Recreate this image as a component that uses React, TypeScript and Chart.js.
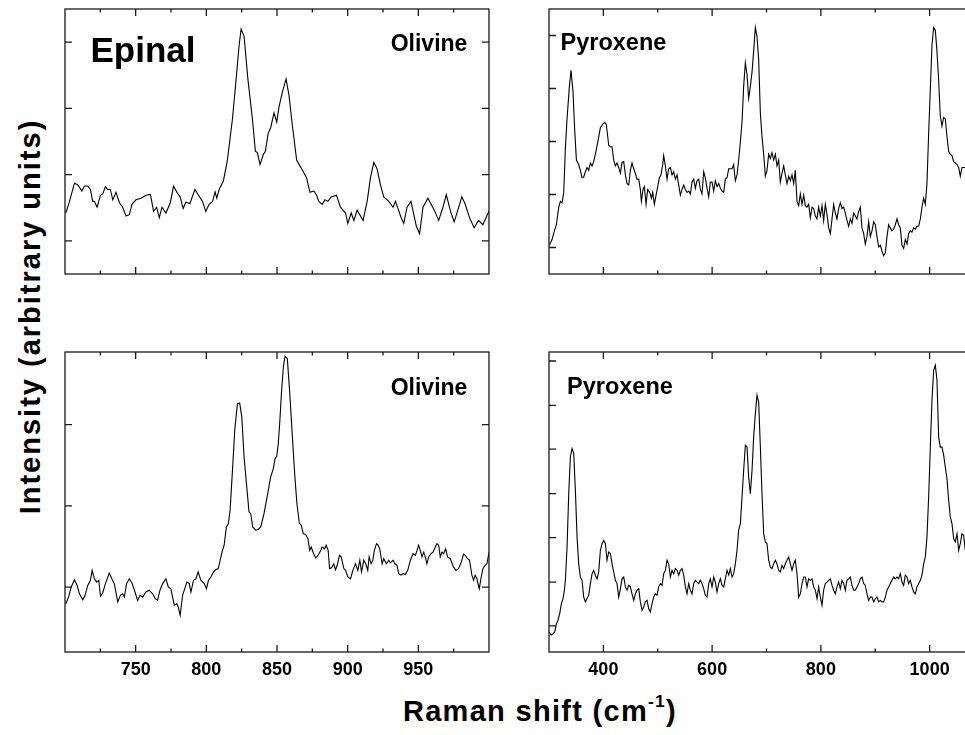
import React, { useEffect, useRef } from 'react';
import { Chart, registerables } from 'chart.js';

Chart.register(...registerables);

type Pt = [number, number];

// ---------- tick values ----------
const leftMajor = [750, 800, 850, 900, 950];
const leftMinor = [725, 775, 825, 875, 925, 975];
const rightMajor = [400, 600, 800, 1000];
const rightMinor = [500, 700, 900];
const olivineTopYTicks = [12.5, 37.5, 62.5, 87.5];
const pyroxeneTopYTicks = [10, 30, 50, 70, 90];
const olivineBottomYTicks = [21.6, 48.7, 75.8];
const pyroxeneBottomYTicks = [8.7, 23.3, 38.1, 52.8, 67.6, 82.2, 97.0];

// ---------- spectra (Raman shift cm-1, intensity a.u.) ----------
const olivineTop: Pt[] = [
  [700.6,23.0],[703.2,27.4],[706.7,34.3],[709.1,33.6],[711.9,31.3],[713.8,33.2],[716.1,33.2],[718.0,31.9],[719.6,27.4],[720.8,27.4],
  [722.7,25.2],[725.1,29.7],[726.7,30.2],[728.6,33.0],[730.2,31.9],[732.1,31.9],[733.8,28.0],[736.1,30.8],[738.5,26.9],[740.8,25.2],
  [743.2,21.9],[745.5,22.4],[747.4,26.3],[750.2,28.0],[753.8,28.6],[757.3,29.7],[760.4,30.0],[762.7,23.6],[764.8,25.2],[766.7,21.3],
  [768.6,25.2],[771.4,23.0],[774.5,26.9],[776.8,33.2],[779.2,30.8],[781.5,29.1],[783.6,24.7],[785.5,27.1],[788.4,26.6],[791.9,31.9],
  [794.5,29.7],[797.3,27.4],[799.6,23.6],[802.0,26.3],[804.4,27.4],[806.2,31.0],[807.4,28.6],[809.1,31.9],[812.1,35.2],[814.9,43.0],
  [818.5,58.6],[820.8,71.9],[823.2,86.3],[824.6,92.4],[826.7,89.7],[829.5,73.0],[832.6,58.6],[834.7,46.3],[836.1,45.8],[838.0,41.3],
  [840.4,45.2],[841.8,46.3],[843.7,53.0],[845.5,55.2],[847.9,60.8],[849.8,57.4],[851.4,63.0],[853.8,68.6],[856.4,73.6],[858.5,67.4],
  [860.8,56.3],[863.9,43.0],[866.2,40.8],[868.6,38.6],[870.9,36.3],[873.3,30.8],[876.1,31.3],[878.0,29.7],[879.6,27.4],[882.0,26.3],
  [883.9,28.0],[886.0,27.4],[888.4,29.1],[892.1,29.7],[894.9,25.2],[898.5,23.0],[900.1,19.1],[902.5,23.0],[904.4,20.2],[906.7,24.1],
  [910.9,20.2],[913.8,27.4],[916.1,36.3],[918.5,42.1],[920.8,39.7],[923.2,33.6],[925.5,29.1],[929.1,27.4],[932.1,25.2],[933.8,27.4],
  [937.8,21.3],[939.7,19.1],[942.0,25.2],[944.8,27.4],[948.6,18.0],[950.9,15.2],[953.3,25.2],[956.8,28.6],[961.3,24.1],[964.4,20.2],
  [967.4,25.2],[969.8,29.9],[973.1,23.0],[975.4,19.7],[980.8,29.1],[983.2,26.3],[986.2,21.3],[989.5,17.4],[992.6,20.2],[995.7,18.6],
  [1000.1,23.9],
];

const pyroxeneTop: Pt[] = [
  [300.7,10.8],[305.6,13.0],[309.9,16.3],[313.6,18.6],[317.9,25.2],[320.9,27.4],[324.0,26.9],[327.1,30.8],[330.1,47.4],[333.2,58.6],
  [337.5,70.8],[340.5,76.9],[344.2,68.6],[347.3,54.1],[350.4,43.0],[354.6,41.3],[357.7,39.1],[360.8,36.3],[363.8,36.6],[366.9,38.6],
  [370.0,40.2],[373.0,39.1],[376.1,41.9],[379.2,40.8],[382.2,42.4],[385.3,45.2],[389.6,49.7],[394.5,55.2],[398.8,56.6],[402.5,57.2],
  [405.5,56.3],[409.8,48.6],[412.9,48.0],[415.9,48.0],[419.0,43.0],[422.1,40.8],[425.1,41.9],[428.2,40.2],[431.3,38.0],[434.3,42.1],
  [437.4,42.4],[440.5,37.4],[443.5,34.1],[446.6,33.6],[449.6,39.1],[452.7,41.9],[455.8,39.7],[458.8,38.0],[461.9,35.8],[465.0,35.8],
  [468.0,31.9],[469.9,27.4],[472.9,31.9],[475.4,33.0],[478.5,26.3],[481.5,31.9],[485.2,30.8],[488.3,28.6],[490.7,30.8],[493.8,26.3],
  [496.8,29.7],[499.9,33.0],[503.0,36.3],[506.0,37.4],[509.1,41.3],[510.9,44.7],[514.0,40.8],[517.1,35.8],[520.1,39.7],[523.2,40.2],
  [526.3,37.4],[529.3,38.6],[532.4,35.8],[535.5,37.4],[538.5,33.6],[541.6,29.7],[544.6,31.9],[547.7,33.6],[550.8,31.9],[553.8,30.8],
  [556.9,31.3],[560.0,30.2],[563.0,34.7],[566.1,35.8],[569.2,32.4],[572.2,35.2],[575.3,35.8],[578.4,31.9],[581.4,30.2],[584.5,38.6],
  [587.5,36.3],[590.6,32.4],[593.7,29.1],[596.7,34.7],[599.8,34.7],[602.9,31.3],[605.9,35.2],[609.0,33.0],[612.1,34.1],[615.1,32.4],
  [618.2,31.3],[621.3,30.8],[624.3,35.8],[627.4,36.3],[630.5,39.7],[633.5,39.7],[636.6,39.7],[639.6,41.3],[642.7,35.2],[645.8,37.4],
  [648.8,43.0],[651.9,49.7],[655.0,57.4],[658.0,70.8],[661.1,79.7],[664.2,75.2],[667.2,66.3],[670.3,70.8],[673.4,76.3],[676.4,84.1],
  [679.5,93.0],[682.5,89.7],[685.6,80.8],[688.7,60.8],[691.7,51.9],[694.8,45.2],[697.9,36.9],[700.9,39.1],[704.0,45.2],[707.1,43.6],
  [710.1,45.8],[713.2,43.0],[716.3,45.2],[719.3,40.8],[722.4,43.0],[725.4,34.7],[728.5,38.0],[731.6,40.8],[734.6,37.4],[737.7,34.1],
  [740.8,36.9],[743.8,35.2],[746.9,37.4],[750.0,34.1],[753.0,39.1],[756.1,27.4],[759.2,25.8],[762.2,30.2],[765.3,26.3],[768.4,29.7],
  [771.4,25.8],[774.5,25.2],[777.5,26.3],[780.6,21.3],[783.7,25.2],[786.7,24.7],[789.8,21.9],[792.9,20.8],[795.9,25.2],[799.0,21.9],
  [802.1,25.8],[805.1,20.2],[808.2,26.3],[811.3,22.4],[814.3,17.4],[817.4,15.2],[820.5,20.8],[823.5,26.3],[826.6,23.0],[829.6,20.8],
  [832.7,24.7],[835.8,26.9],[838.8,24.7],[841.9,25.2],[845.0,23.0],[848.0,20.2],[851.1,18.0],[854.2,20.8],[857.2,19.1],[860.3,23.0],
  [863.4,21.9],[866.4,20.8],[869.5,23.6],[872.5,25.2],[875.6,17.4],[878.7,15.2],[881.7,11.3],[884.8,14.1],[887.9,19.7],[890.9,14.1],
  [894.0,16.3],[897.1,19.7],[900.1,18.6],[903.2,14.1],[906.3,10.2],[909.3,10.8],[912.4,8.6],[915.4,6.9],[918.5,8.0],[921.6,14.1],
  [924.6,18.6],[927.7,17.4],[930.8,16.3],[933.8,16.9],[936.9,18.6],[940.0,20.8],[943.0,18.6],[946.1,17.4],[949.2,10.8],[952.2,9.7],
  [955.3,13.0],[958.4,11.3],[961.4,15.2],[964.5,16.3],[967.5,15.8],[970.6,17.4],[973.7,16.9],[976.7,18.0],[979.8,18.0],[982.9,20.8],
  [985.9,25.2],[989.0,28.6],[992.1,26.3],[995.1,34.1],[998.2,53.0],[1001.3,69.7],[1004.3,86.3],[1007.4,93.0],[1010.5,91.9],[1013.5,84.1],
  [1016.6,73.0],[1019.6,59.7],[1022.7,55.8],[1025.8,59.1],[1028.8,58.6],[1031.9,51.9],[1035.0,46.3],[1038.0,45.2],[1041.1,44.7],[1044.2,42.4],
  [1047.2,41.9],[1050.3,41.3],[1053.4,40.2],[1056.4,36.9],[1059.5,40.2],[1065.6,40.2],
];

const olivineBottom: Pt[] = [
  [700.6,16.1],[702.5,18.3],[704.4,21.7],[706.7,24.1],[708.6,22.2],[710.2,19.4],[712.6,17.4],[714.2,18.9],[716.1,22.2],[718.0,23.9],
  [719.2,27.2],[720.8,24.4],[722.5,23.3],[723.9,23.9],[725.1,18.6],[726.7,19.7],[728.6,22.8],[731.4,26.3],[733.1,24.4],[734.9,22.8],
  [737.3,16.7],[739.2,18.9],[740.8,19.4],[742.0,18.3],[743.6,22.8],[745.5,24.4],[747.4,23.0],[749.5,20.0],[751.4,17.2],[753.1,18.9],
  [754.9,18.3],[757.3,20.0],[759.6,20.6],[762.0,19.4],[763.9,17.8],[765.5,17.2],[767.2,20.6],[769.1,22.8],[771.4,24.4],[773.1,21.7],
  [774.9,21.1],[777.3,15.6],[779.2,16.1],[780.1,15.0],[781.5,12.2],[783.2,18.9],[784.4,20.6],[786.2,23.3],[787.9,22.8],[789.1,20.0],
  [790.9,23.9],[792.6,24.4],[794.2,26.7],[796.1,23.9],[798.5,22.8],[800.1,21.1],[801.5,23.9],[803.2,25.0],[805.1,26.7],[806.7,27.4],
  [808.4,27.8],[809.8,30.6],[811.4,33.9],[812.6,35.6],[814.2,41.7],[815.6,42.8],[816.8,47.2],[818.5,60.6],[820.1,73.9],[822.0,82.8],
  [823.6,83.0],[825.1,78.3],[826.7,65.0],[828.6,55.0],[830.2,46.7],[831.4,46.1],[832.8,41.7],[834.9,40.6],[836.6,40.8],[838.5,41.7],
  [840.8,46.1],[843.2,52.2],[845.5,58.3],[847.4,61.1],[848.6,64.4],[849.8,65.2],[850.9,69.4],[851.9,76.1],[853.1,86.1],[854.5,95.0],
  [855.7,98.6],[857.3,97.8],[858.9,87.2],[860.6,73.9],[862.5,59.4],[864.1,49.4],[865.8,43.0],[867.2,42.2],[868.6,39.4],[870.2,39.2],
  [871.9,37.8],[873.1,33.9],[874.2,35.0],[875.7,33.0],[877.3,31.4],[878.5,31.9],[880.4,33.3],[882.0,35.0],[883.7,34.4],[884.8,35.6],
  [886.2,33.9],[887.2,27.8],[888.6,28.1],[890.2,29.4],[891.4,27.4],[892.6,28.9],[894.2,32.2],[895.4,31.7],[897.3,27.8],[898.5,27.2],
  [900.1,25.0],[902.0,24.4],[903.7,27.2],[905.5,29.4],[907.2,27.2],[908.6,30.6],[909.8,26.7],[911.4,30.6],[912.8,29.4],[914.2,27.2],
  [915.2,31.7],[916.6,29.4],[917.8,30.6],[918.9,33.9],[920.4,36.1],[921.5,35.6],[922.7,34.4],[924.4,29.4],[925.5,31.1],[927.4,29.4],
  [929.1,30.6],[930.2,29.7],[932.1,30.6],[933.3,29.4],[934.9,28.9],[936.1,26.1],[937.8,25.6],[939.2,26.1],[940.8,25.9],[942.5,27.2],
  [944.4,30.6],[946.2,32.8],[947.9,32.2],[949.1,33.9],[950.2,35.6],[951.4,33.9],[952.6,31.7],[953.8,33.3],[954.9,31.7],[956.1,29.4],
  [957.3,31.7],[958.9,32.8],[960.4,33.3],[962.0,35.0],[963.2,36.1],[964.4,35.6],[965.5,31.7],[966.7,33.3],[967.9,32.8],[969.3,34.4],
  [970.7,31.7],[972.6,31.1],[974.9,28.3],[976.6,27.2],[978.5,27.8],[980.4,30.0],[982.0,32.6],[983.2,32.2],[984.8,31.1],[986.2,30.6],
  [987.9,25.6],[989.1,23.9],[990.2,25.6],[991.4,24.4],[993.1,21.1],[994.5,25.0],[995.7,27.8],[997.3,28.9],[998.5,29.4],[1000.1,33.3],
];

const pyroxeneBottom: Pt[] = [
  [300.7,6.7],[303.8,5.6],[307.5,6.1],[310.5,6.7],[313.6,9.4],[316.6,10.6],[319.7,12.8],[322.8,16.1],[325.8,17.8],[328.3,20.6],
  [330.1,23.9],[333.2,35.0],[336.3,52.8],[339.3,65.0],[342.4,67.8],[345.5,66.1],[348.5,53.9],[351.6,38.3],[354.6,29.4],[357.7,25.0],
  [360.8,23.9],[363.8,18.3],[366.9,16.7],[370.0,17.8],[373.0,18.9],[376.1,22.8],[379.2,26.1],[382.2,27.2],[385.3,25.6],[388.4,24.4],
  [391.4,26.7],[394.5,33.9],[397.5,36.1],[400.6,37.2],[403.7,36.1],[406.7,30.6],[409.8,33.3],[412.9,32.8],[415.9,29.4],[419.0,26.7],
  [422.1,23.9],[425.1,22.8],[428.2,18.3],[431.3,21.1],[434.3,24.4],[437.4,25.0],[440.5,21.7],[443.5,20.6],[446.6,22.2],[449.6,21.7],
  [452.7,19.4],[455.8,17.2],[458.8,19.4],[461.9,20.6],[465.0,21.1],[468.0,16.7],[471.1,13.9],[474.2,15.0],[477.2,16.7],[480.3,17.2],
  [483.4,14.4],[486.4,13.3],[489.5,16.1],[492.5,18.3],[495.6,19.4],[498.7,18.9],[501.7,21.7],[504.8,22.8],[507.9,22.2],[510.9,26.1],
  [514.0,27.2],[517.1,30.6],[520.1,29.4],[523.2,25.0],[526.3,27.2],[529.3,26.1],[532.4,27.8],[535.5,27.2],[538.5,25.6],[541.6,27.2],
  [544.6,27.8],[547.7,25.6],[550.8,21.7],[553.8,19.4],[556.9,22.8],[560.0,20.6],[563.0,19.4],[566.1,22.8],[569.2,23.9],[572.2,23.3],
  [575.3,22.8],[578.4,23.9],[581.4,22.8],[584.5,21.1],[587.5,18.9],[590.6,18.3],[593.7,22.8],[596.7,24.4],[599.8,21.7],[602.9,25.0],
  [605.9,23.3],[609.0,20.0],[612.1,22.8],[615.1,24.4],[618.2,22.2],[621.3,21.7],[624.3,24.4],[627.4,27.2],[630.5,25.6],[633.5,27.8],
  [636.6,25.0],[639.6,26.1],[642.7,29.4],[645.8,33.9],[648.8,40.6],[651.9,42.8],[655.0,51.7],[658.0,60.6],[661.1,68.9],[664.2,68.3],
  [667.2,58.3],[670.3,52.8],[673.4,60.6],[676.4,71.7],[679.5,79.4],[682.5,85.6],[685.6,83.3],[688.7,68.3],[691.7,52.8],[694.8,39.4],
  [697.9,36.7],[700.9,36.1],[704.0,30.6],[707.1,28.3],[710.1,27.8],[713.2,29.4],[716.3,30.6],[719.3,29.4],[722.4,27.2],[725.4,26.7],
  [728.5,28.9],[731.6,27.8],[734.6,29.4],[737.7,30.6],[740.8,31.7],[743.8,29.4],[746.9,27.2],[750.0,29.4],[753.0,30.6],[756.1,26.1],
  [759.2,18.3],[762.2,19.4],[765.3,22.8],[768.4,25.0],[771.4,25.0],[774.5,21.7],[777.5,24.4],[780.6,23.9],[783.7,24.4],[786.7,21.7],
  [789.8,20.6],[792.9,17.8],[795.9,21.7],[799.0,18.3],[802.1,15.6],[805.1,20.6],[808.2,22.8],[811.3,23.3],[814.3,23.9],[817.4,24.4],
  [820.5,22.2],[823.5,20.6],[826.6,19.4],[829.6,21.7],[832.7,23.3],[835.8,21.1],[838.8,23.9],[841.9,22.8],[845.0,20.6],[848.0,23.9],
  [851.1,24.4],[854.2,25.0],[857.2,22.2],[860.3,20.6],[863.4,20.6],[866.4,21.7],[869.5,22.8],[872.5,24.4],[875.6,25.0],[878.7,22.8],
  [881.7,22.2],[884.8,19.4],[887.9,17.2],[890.9,18.3],[894.0,18.3],[897.1,16.7],[900.1,17.8],[903.2,18.3],[906.3,16.7],[909.3,17.2],
  [912.4,16.7],[915.4,16.7],[918.5,18.3],[921.6,20.6],[924.6,21.7],[927.7,22.8],[930.8,23.9],[933.8,25.0],[936.9,24.4],[940.0,25.0],
  [943.0,24.4],[946.1,26.1],[949.2,23.3],[952.2,22.2],[955.3,25.6],[958.4,25.0],[961.4,22.8],[964.5,23.9],[967.5,21.7],[970.6,20.0],
  [973.7,19.4],[976.7,21.7],[979.8,22.8],[982.9,23.9],[985.9,25.6],[989.0,29.4],[992.1,31.7],[995.1,38.3],[998.2,51.7],[1001.3,68.3],
  [1004.3,83.9],[1007.4,93.9],[1010.5,95.6],[1013.5,90.6],[1016.6,71.7],[1019.6,68.3],[1022.7,68.3],[1025.8,65.6],[1028.8,61.7],[1031.9,57.8],
  [1035.0,50.6],[1038.0,45.0],[1041.1,42.8],[1044.2,37.8],[1047.2,36.7],[1050.3,39.4],[1053.4,33.9],[1056.4,36.1],[1059.5,39.4],[1062.5,38.9],
  [1065.6,33.9],
];

const FONT = '"Liberation Sans", Arial, Helvetica, sans-serif';

interface PanelSpec {
  left: number; top: number; width: number; height: number;
  pad: { left: number; right: number; top: number; bottom: number };
  xMin: number; xMax: number;
  data: Pt[];
  xMajor: number[]; xMinor: number[]; yTicks: number[];
  showLabels: boolean;
}

const panels: PanelSpec[] = [
  { left: 55, top: 0, width: 444, height: 318, pad: { left: 10, right: 10, top: 9, bottom: 9 },
    xMin: 700, xMax: 1000, data: olivineTop, xMajor: leftMajor, xMinor: leftMinor, yTicks: olivineTopYTicks, showLabels: false },
  { left: 539, top: 0, width: 455, height: 318, pad: { left: 10, right: 10, top: 9, bottom: 9 },
    xMin: 300, xMax: 1100, data: pyroxeneTop, xMajor: rightMajor, xMinor: rightMinor, yTicks: pyroxeneTopYTicks, showLabels: false },
  { left: 55, top: 343, width: 444, height: 344, pad: { left: 10, right: 10, top: 9, bottom: 0 },
    xMin: 700, xMax: 1000, data: olivineBottom, xMajor: leftMajor, xMinor: leftMinor, yTicks: olivineBottomYTicks, showLabels: true },
  { left: 539, top: 343, width: 455, height: 344, pad: { left: 10, right: 10, top: 9, bottom: 0 },
    xMin: 300, xMax: 1100, data: pyroxeneBottom, xMajor: rightMajor, xMinor: rightMinor, yTicks: pyroxeneBottomYTicks, showLabels: true },
];

function framePlugin(spec: PanelSpec) {
  return {
    id: 'frame',
    afterDatasetsDraw(chart: any) {
      const { ctx, chartArea: a, scales } = chart;
      const x = scales.x, y = scales.y;
      ctx.save();
      ctx.strokeStyle = '#1a1a1a';
      ctx.lineWidth = 1.3;
      ctx.strokeRect(a.left, a.top, a.right - a.left, a.bottom - a.top);
      ctx.beginPath();
      const major = 7, minor = 3.5;
      spec.xMajor.forEach((v) => {
        const p = x.getPixelForValue(v);
        ctx.moveTo(p, a.bottom); ctx.lineTo(p, a.bottom - major);
        ctx.moveTo(p, a.top); ctx.lineTo(p, a.top + major);
      });
      spec.xMinor.forEach((v) => {
        const p = x.getPixelForValue(v);
        ctx.moveTo(p, a.bottom); ctx.lineTo(p, a.bottom - minor);
        ctx.moveTo(p, a.top); ctx.lineTo(p, a.top + minor);
      });
      spec.yTicks.forEach((v) => {
        const p = y.getPixelForValue(v);
        ctx.moveTo(a.left, p); ctx.lineTo(a.left + major, p);
        ctx.moveTo(a.right, p); ctx.lineTo(a.right - major, p);
      });
      ctx.stroke();
      ctx.restore();
    },
  };
}

function Panel({ spec }: { spec: PanelSpec }) {
  const ref = useRef<HTMLCanvasElement>(null);
  useEffect(() => {
    const canvas = ref.current;
    if (!canvas) return;
    const chart = new Chart(canvas, {
      type: 'line',
      data: {
        datasets: [{
          data: spec.data.map(([x, y]) => ({ x, y })),
          borderColor: '#000',
          borderWidth: 1.1,
          pointRadius: 0,
          tension: 0,
          fill: false,
        }],
      },
      options: {
        animation: false,
        responsive: false,
        events: [],
        layout: { padding: spec.pad },
        plugins: { legend: { display: false }, tooltip: { enabled: false } },
        scales: {
          x: {
            type: 'linear',
            min: spec.xMin,
            max: spec.xMax,
            display: spec.showLabels,
            grid: { display: false },
            border: { display: false },
            ticks: {
              color: '#000',
              font: { family: FONT, size: 18, weight: 'bold' },
              padding: -1,
              maxRotation: 0,
              autoSkip: false,
              callback: (v: any) => String(v),
            },
            afterBuildTicks: (s: any) => { s.ticks = spec.xMajor.map((v) => ({ value: v })); },
            afterFit: (s: any) => { s.height = 35; },
          },
          y: { type: 'linear', min: 0, max: 100, display: false },
        },
      } as any,
      plugins: [framePlugin(spec)],
    });
    return () => chart.destroy();
  }, [spec]);
  return (
    <canvas
      ref={ref}
      width={spec.width}
      height={spec.height}
      style={{ position: 'absolute', left: spec.left, top: spec.top, width: spec.width, height: spec.height }}
    />
  );
}

const txt: React.CSSProperties = {
  position: 'absolute',
  fontFamily: FONT,
  fontWeight: 700,
  color: '#000',
  whiteSpace: 'nowrap',
};

export default function App() {
  return (
    <div style={{ position: 'fixed', left: 0, top: 0, width: 965, height: 735, overflow: 'hidden', background: '#fff' }}>
      {panels.map((p, i) => <Panel key={i} spec={p} />)}
      <div style={{ ...txt, left: 90.5, top: 32.1, fontSize: 35, lineHeight: '35px' }}>Epinal</div>
      <div style={{ ...txt, left: 390.7, top: 32.2, fontSize: 23, lineHeight: '23px' }}>Olivine</div>
      <div style={{ ...txt, left: 560.5, top: 30.5, fontSize: 23.5, lineHeight: '23.5px' }}>Pyroxene</div>
      <div style={{ ...txt, left: 390.7, top: 375.5, fontSize: 23, lineHeight: '23px' }}>Olivine</div>
      <div style={{ ...txt, left: 567, top: 374.5, fontSize: 23.5, lineHeight: '23.5px' }}>Pyroxene</div>
      <div style={{ ...txt, left: 290, width: 500, top: 697.2, fontSize: 29, lineHeight: '29px', textAlign: 'center', letterSpacing: 1.3 }}>
        Raman shift (cm<span style={{ fontSize: '0.6em', position: 'relative', top: '-0.8em' }}>-1</span>)
      </div>
      <div style={{ ...txt, left: 29.6 - 250, width: 500, top: 316.5 - 14.5, fontSize: 29, lineHeight: '29px', textAlign: 'center', letterSpacing: 2, transform: 'rotate(-90deg)' }}>
        Intensity (arbitrary units)
      </div>
    </div>
  );
}
